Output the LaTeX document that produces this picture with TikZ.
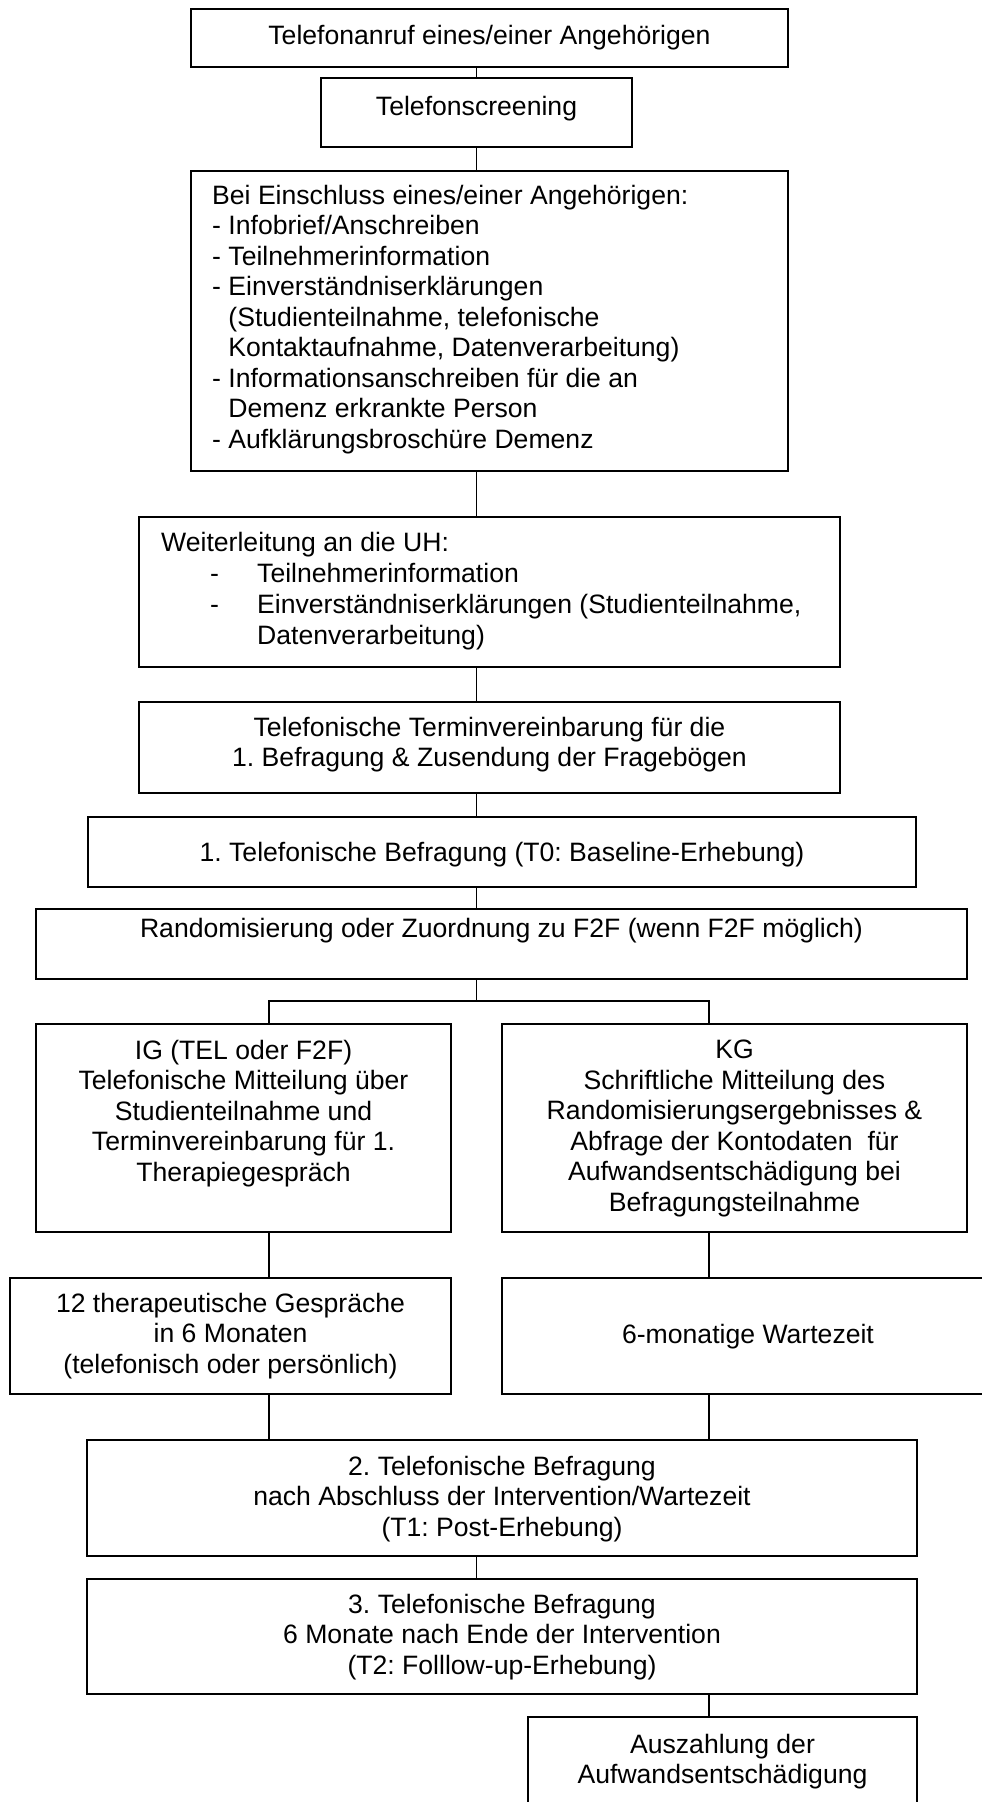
\documentclass[tikz,border=0pt]{standalone}
\usepackage{fontspec}
\setmainfont{Liberation Sans}
\frenchspacing
% Box from its left, top, right and bottom edges (picture units: 1 unit = 1pt, y downwards)
\newcommand\flowbox[5]{%
  \node[stepbox, minimum width={#4-#2}, minimum height={#5-#3}] (#1) at ({(#2+#4)/2},{(#3+#5)/2}) {};}
\begin{document}
\begin{tikzpicture}[x=1pt,y=-1pt,
  stepbox/.style={draw=black, line width=1.8pt, rectangle, inner sep=0pt, outer sep=0pt},
  link/.style={draw=black, line width=1.5pt},
  txt/.style={inner sep=0pt, anchor=north, align=center,
    font=\fontsize{26.6}{30.5}\selectfont,
    execute at begin node={\rule{0pt}{20pt}}},
  txtl/.style={txt, anchor=north west, align=left},
]
\clip (0,0) rectangle (982,1802);

% column positions of the connectors
\coordinate (mx) at (476.5,0);
\coordinate (lx) at (269,0);
\coordinate (rx) at (709,0);
\coordinate (split) at (476.5,1001);

% boxes
\flowbox{b1}{191}{9}{788}{67}
\flowbox{b2}{321}{78}{632}{147}
\flowbox{b3}{191}{171}{788}{471}
\flowbox{b4}{139}{517}{840}{667}
\flowbox{b5}{139}{702}{840}{793}
\flowbox{b6}{88}{817}{916}{887}
\flowbox{b7}{36}{909}{967}{979}
\flowbox{b8}{36}{1024}{451}{1232}
\flowbox{b9}{502}{1024}{967}{1232}
\flowbox{b10}{10}{1278}{451}{1394}
\flowbox{b11}{502}{1278}{995}{1394}
\flowbox{b12}{87}{1440}{917}{1556}
\flowbox{b13}{87}{1579}{917}{1694}
\flowbox{b14}{528}{1717}{917}{1830}

% texts
\node[txt] (t1) at (489.5,24) {Telefonanruf eines/einer Angehörigen};
\node[txt] (t2) at (476.5,95) {Telefonscreening};
\node[txtl] (t3) at (212,185) {Bei Einschluss eines/einer Angehörigen:\\
- Infobrief/Anschreiben\\
- Teilnehmerinformation\\
- Einverständniserklärungen\\
\hphantom{- }(Studienteilnahme, telefonische\\
\hphantom{- }Kontaktaufnahme, Datenverarbeitung)\\
- Informationsanschreiben für die an\\
\hphantom{- }Demenz erkrankte Person\\
- Aufklärungsbroschüre Demenz};
\node[txtl, font=\fontsize{26.6}{31}\selectfont] (t4) at (161,532) {Weiterleitung an die UH:\\
\hspace*{49pt}\makebox[47pt][l]{-}Teilnehmerinformation\\
\hspace*{49pt}\makebox[47pt][l]{-}Einverständniserklärungen (Studienteilnahme,\\
\hspace*{96pt}Datenverarbeitung)};
\node[txt] (t5) at (489.5,717) {Telefonische Terminvereinbarung für die\\
1. Befragung \& Zusendung der Fragebögen};
\node[txt] (t6) at (502,841) {1. Telefonische Befragung (T0: Baseline-Erhebung)};
\node[txt] (t7) at (501.5,917) {Randomisierung oder Zuordnung zu F2F (wenn F2F möglich)};
\node[txt] (t8) at (243.5,1040) {IG (TEL oder F2F)\\
Telefonische Mitteilung über\\
Studienteilnahme und\\
Terminvereinbarung für 1.\\
Therapiegespräch};
\node[txt] (t9) at (734.5,1040) {KG\\
Schriftliche Mitteilung des\\
Randomisierungsergebnisses \&\\
Abfrage der Kontodaten~ für\\
Aufwandsentschädigung bei\\
Befragungsteilnahme};
\node[txt] (t10) at (230.5,1293) {12 therapeutische Gespräche\\
in 6 Monaten\\
(telefonisch oder persönlich)};
\node[txt] (t11) at (748,1323) {6-monatige Wartezeit};
\node[txt] (t12) at (502,1456) {2. Telefonische Befragung\\
nach Abschluss der Intervention/Wartezeit\\
(T1: Post-Erhebung)};
\node[txt] (t13) at (502,1594) {3. Telefonische Befragung\\
6 Monate nach Ende der Intervention\\
(T2: Folllow-up-Erhebung)};
\node[txt] (t14) at (722.5,1734) {Auszahlung der\\
Aufwandsentschädigung};

% connectors
\draw[link] (b1.south -| mx) -- (b2.north -| mx);
\draw[link] (b2.south -| mx) -- (b3.north -| mx);
\draw[link] (b3.south -| mx) -- (b4.north -| mx);
\draw[link] (b4.south -| mx) -- (b5.north -| mx);
\draw[link] (b5.south -| mx) -- (b6.north -| mx);
\draw[link] (b6.south -| mx) -- (b7.north -| mx);
\draw[link] (b7.south -| mx) -- (split);
\draw[link] (b8.north -| lx) |- (split) -| (b9.north -| rx);
\draw[link] (b8.south -| lx) -- (b10.north -| lx);
\draw[link] (b9.south -| rx) -- (b11.north -| rx);
\draw[link] (b10.south -| lx) -- (b12.north -| lx);
\draw[link] (b11.south -| rx) -- (b12.north -| rx);
\draw[link] (b12.south -| mx) -- (b13.north -| mx);
\draw[link] (b13.south -| rx) -- (b14.north -| rx);
\end{tikzpicture}
\end{document}
